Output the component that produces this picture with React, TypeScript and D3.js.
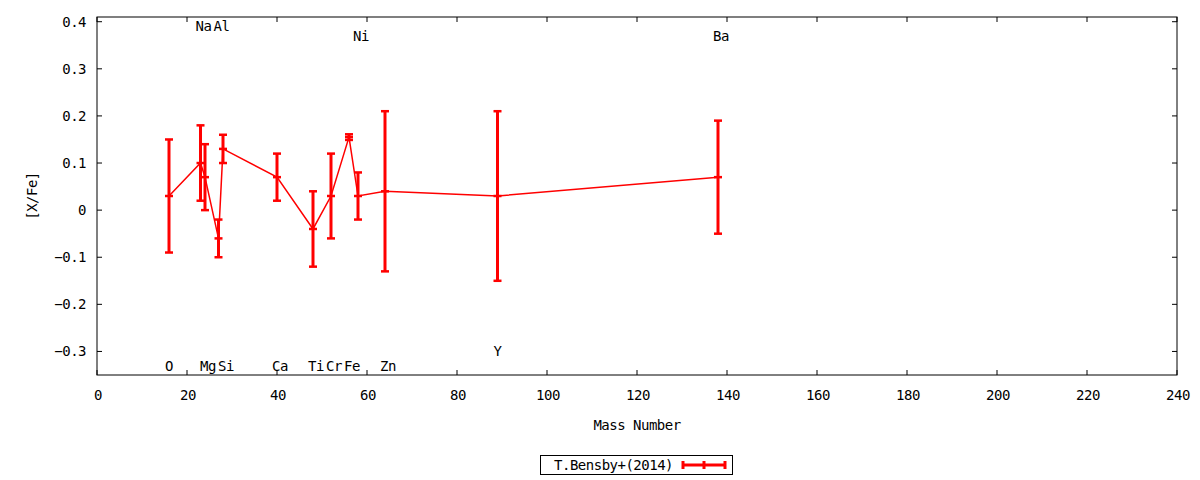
import * as d3 from "d3"

// Bensby et al. (2014) abundance ratios vs mass number
const elements = ["O", "Na", "Mg", "Al", "Si", "Ca", "Ti", "Cr", "Fe", "Ni", "Zn", "Y", "Ba"]
const massNumbers = [16, 23, 24, 27, 28, 40, 48, 52, 56, 58, 64, 89, 138]
const xfeValues = [0.03, 0.1, 0.07, -0.06, 0.13, 0.07, -0.04, 0.03, 0.155, 0.03, 0.04, 0.03, 0.07]
const xfeErrors = [0.12, 0.08, 0.07, 0.04, 0.03, 0.05, 0.08, 0.09, 0.006, 0.05, 0.17, 0.18, 0.12]
const labelY = [-0.33, 0.39, -0.33, 0.39, -0.33, -0.33, -0.33, -0.33, -0.33, 0.37, -0.33, -0.3, 0.37]
const xTicks = [0, 20, 40, 60, 80, 100, 120, 140, 160, 180, 200, 220, 240]
const yTicks = [-0.3, -0.2, -0.1, 0, 0.1, 0.2, 0.3, 0.4]
const legendLabel = "T.Bensby+(2014)"

const width = 1200
const height = 480
const margin = { top: 17, right: 23, bottom: 105, left: 97 }
const font = "'DejaVu Sans Mono', monospace"
const red = "#ff0000"

export default function App() {
  const x = d3.scaleLinear().domain([0, 240]).range([margin.left, width - margin.right])
  const y = d3.scaleLinear().domain([-0.35, 0.41]).range([height - margin.bottom, margin.top])

  const points = massNumbers.map((m, i) => ({ m, v: xfeValues[i], e: xfeErrors[i], el: elements[i], ly: labelY[i] }))
  const line = d3
    .line<{ m: number; v: number }>()
    .x((d) => x(d.m))
    .y((d) => y(d.v))

  const x0 = margin.left
  const x1 = width - margin.right
  const y0 = height - margin.bottom
  const y1 = margin.top
  const tick = 5
  const cap = 4

  return (
    <svg
      width={width}
      height={height}
      style={{ position: "absolute", left: 0, top: 0, background: "#fff" }}
      fontFamily={font}
      fontSize={14}
      letterSpacing={-0.5}
    >
      {/* ticks, mirrored on all sides */}
      {xTicks.map((t) => (
        <g key={"x" + t}>
          <line x1={x(t)} x2={x(t)} y1={y0} y2={y0 - tick} stroke="#000" />
          <line x1={x(t)} x2={x(t)} y1={y1} y2={y1 + tick} stroke="#000" />
          <text x={x(t) + 1} y={395} textAnchor="middle" dominantBaseline="central">
            {t}
          </text>
        </g>
      ))}
      {yTicks.map((t) => (
        <g key={"y" + t}>
          <line x1={x0} x2={x0 + tick} y1={y(t)} y2={y(t)} stroke="#000" />
          <line x1={x1} x2={x1 - tick} y1={y(t)} y2={y(t)} stroke="#000" />
          <text x={86} y={y(t)} textAnchor="end" dominantBaseline="central">
            {d3.format(".1~f")(t)}
          </text>
        </g>
      ))}
      <rect x={x0} y={y1} width={x1 - x0} height={y0 - y1} fill="none" stroke="#000" />

      {/* axis titles */}
      <text x={(x0 + x1) / 2} y={425} textAnchor="middle" dominantBaseline="central">
        Mass Number
      </text>
      <text transform={`translate(32,${(y0 + y1) / 2}) rotate(-90)`} textAnchor="middle" dominantBaseline="central">
        [X/Fe]
      </text>

      {/* element labels */}
      {points.map((d) => (
        <text
          key={"l" + d.el}
          x={x(d.m)}
          dx={d.el.length > 1 ? 3 : 0}
          y={y(d.ly)}
          textAnchor="middle"
          dominantBaseline="central"
        >
          {d.el}
        </text>
      ))}

      {/* connecting line */}
      <path d={line(points) ?? ""} fill="none" stroke={red} strokeWidth={1.5} />

      {/* error bars */}
      {points.map((d) => {
        const cx = x(d.m)
        const top = y(d.v + d.e)
        const bot = y(d.v - d.e)
        return (
          <g key={"e" + d.el} stroke={red} strokeWidth={3}>
            <line x1={cx} x2={cx} y1={top} y2={bot} />
            <line x1={cx - cap} x2={cx + cap} y1={top} y2={top} strokeWidth={2.5} />
            <line x1={cx - cap} x2={cx + cap} y1={bot} y2={bot} strokeWidth={2.5} />
            <line x1={cx - cap} x2={cx + cap} y1={y(d.v)} y2={y(d.v)} strokeWidth={2.5} />
          </g>
        )
      })}

      {/* legend */}
      <rect x={540.5} y={455.5} width={192} height={19} fill="none" stroke="#000" />
      <text x={673} y={465} textAnchor="end" dominantBaseline="central">
        {legendLabel}
      </text>
      <g stroke={red} strokeWidth={3}>
        <line x1={683} x2={725} y1={465} y2={465} />
        <line x1={683} x2={683} y1={461} y2={469} />
        <line x1={725} x2={725} y1={461} y2={469} />
        <line x1={704} x2={704} y1={461} y2={469} />
      </g>
    </svg>
  )
}
